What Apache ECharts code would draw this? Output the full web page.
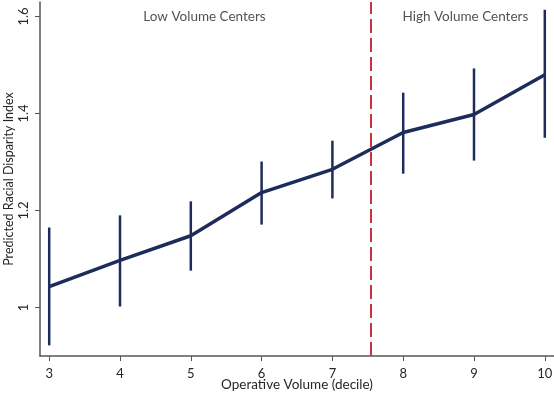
<!DOCTYPE html>
<html>
<head>
<meta charset="utf-8">
<script src="https://cdn.jsdelivr.net/npm/echarts@6/dist/echarts.min.js"></script>
<style>html,body{margin:0;padding:0;background:#fff}#c{width:554px;height:393px}</style>
</head>
<body>
<div id="c"></div>
<script>
const deciles = [3, 4, 5, 6, 7, 8, 9, 10];
const predicted = [1.043, 1.097, 1.148, 1.237, 1.285, 1.361, 1.398, 1.480];
const ciLow = [0.922, 1.002, 1.076, 1.171, 1.225, 1.276, 1.303, 1.350];
const ciHigh = [1.165, 1.190, 1.219, 1.301, 1.344, 1.443, 1.493, 1.614];
const yTicks = [1, 1.2, 1.4, 1.6];
const cutoff = 7.54;
const regionLabels = ['Low Volume Centers', 'High Volume Centers'];

const FONT = 'Lato';
const navy = '#1e2c5c';
const TXT = '#262626';
const chart = echarts.init(document.getElementById('c'));
chart.setOption({
  animation: false,
  grid: { left: 40, right: 0, top: 2, bottom: 37, outerBoundsMode: 'none', containLabel: false },
  xAxis: {
    type: 'value', min: 2.87, max: 10.13,
    name: 'Operative Volume (decile)', nameLocation: 'middle', nameGap: 29, nameMoveOverlap: false,
    nameTextStyle: { fontFamily: FONT, fontSize: 13.5, color: TXT, verticalAlign: 'middle', lineHeight: 14 },
    axisLine: { show: true, onZero: false, lineStyle: { color: '#555', width: 1.5 } },
    axisTick: { show: true, length: 5, customValues: deciles, lineStyle: { color: '#555' } },
    axisLabel: { customValues: deciles, margin: 11, fontFamily: FONT, fontSize: 13, color: TXT },
    splitLine: { show: false }
  },
  yAxis: {
    type: 'value', min: 0.9, max: 1.63,
    name: 'Predicted Racial Disparity Index', nameLocation: 'middle', nameGap: 31, nameMoveOverlap: false,
    nameTextStyle: { fontFamily: FONT, fontSize: 12.5, color: TXT, verticalAlign: 'middle', lineHeight: 14 },
    axisLine: { show: true, onZero: false, lineStyle: { color: '#555', width: 1.5 } },
    axisTick: { show: true, length: 5, customValues: yTicks, lineStyle: { color: '#555' } },
    axisLabel: { customValues: yTicks, rotate: 90, margin: 10, fontFamily: FONT, fontSize: 13, color: TXT,
      formatter: v => String(Math.round(v * 10) / 10) },
    splitLine: { show: false }
  },
  series: [
    {
      type: 'custom',
      data: deciles.map((d, i) => [d, ciLow[i], ciHigh[i]]),
      renderItem: (params, api) => {
        const p1 = api.coord([api.value(0), api.value(1)]);
        const p2 = api.coord([api.value(0), api.value(2)]);
        return { type: 'line', shape: { x1: p1[0], y1: p1[1], x2: p2[0], y2: p2[1] },
          style: { stroke: navy, lineWidth: 2.5 } };
      },
      z: 3
    },
    {
      type: 'line',
      data: deciles.map((d, i) => [d, predicted[i]]),
      symbol: 'none',
      lineStyle: { color: navy, width: 3.5 },
      z: 4,
      markLine: {
        silent: true, symbol: 'none',
        label: { show: false },
        lineStyle: { color: '#c9333c', width: 2, type: [14, 5] },
        data: [{ xAxis: cutoff }]
      }
    },
    {
      type: 'scatter',
      symbolSize: 0,
      data: [[4.33, 1.6], [7.99, 1.6]],
      label: {
        show: true, position: 'inside',
        formatter: p => regionLabels[p.dataIndex],
        align: 'left', fontFamily: FONT, fontSize: 13.5, color: TXT
      },
      silent: true
    }
  ]
});
</script>
</body>
</html>
